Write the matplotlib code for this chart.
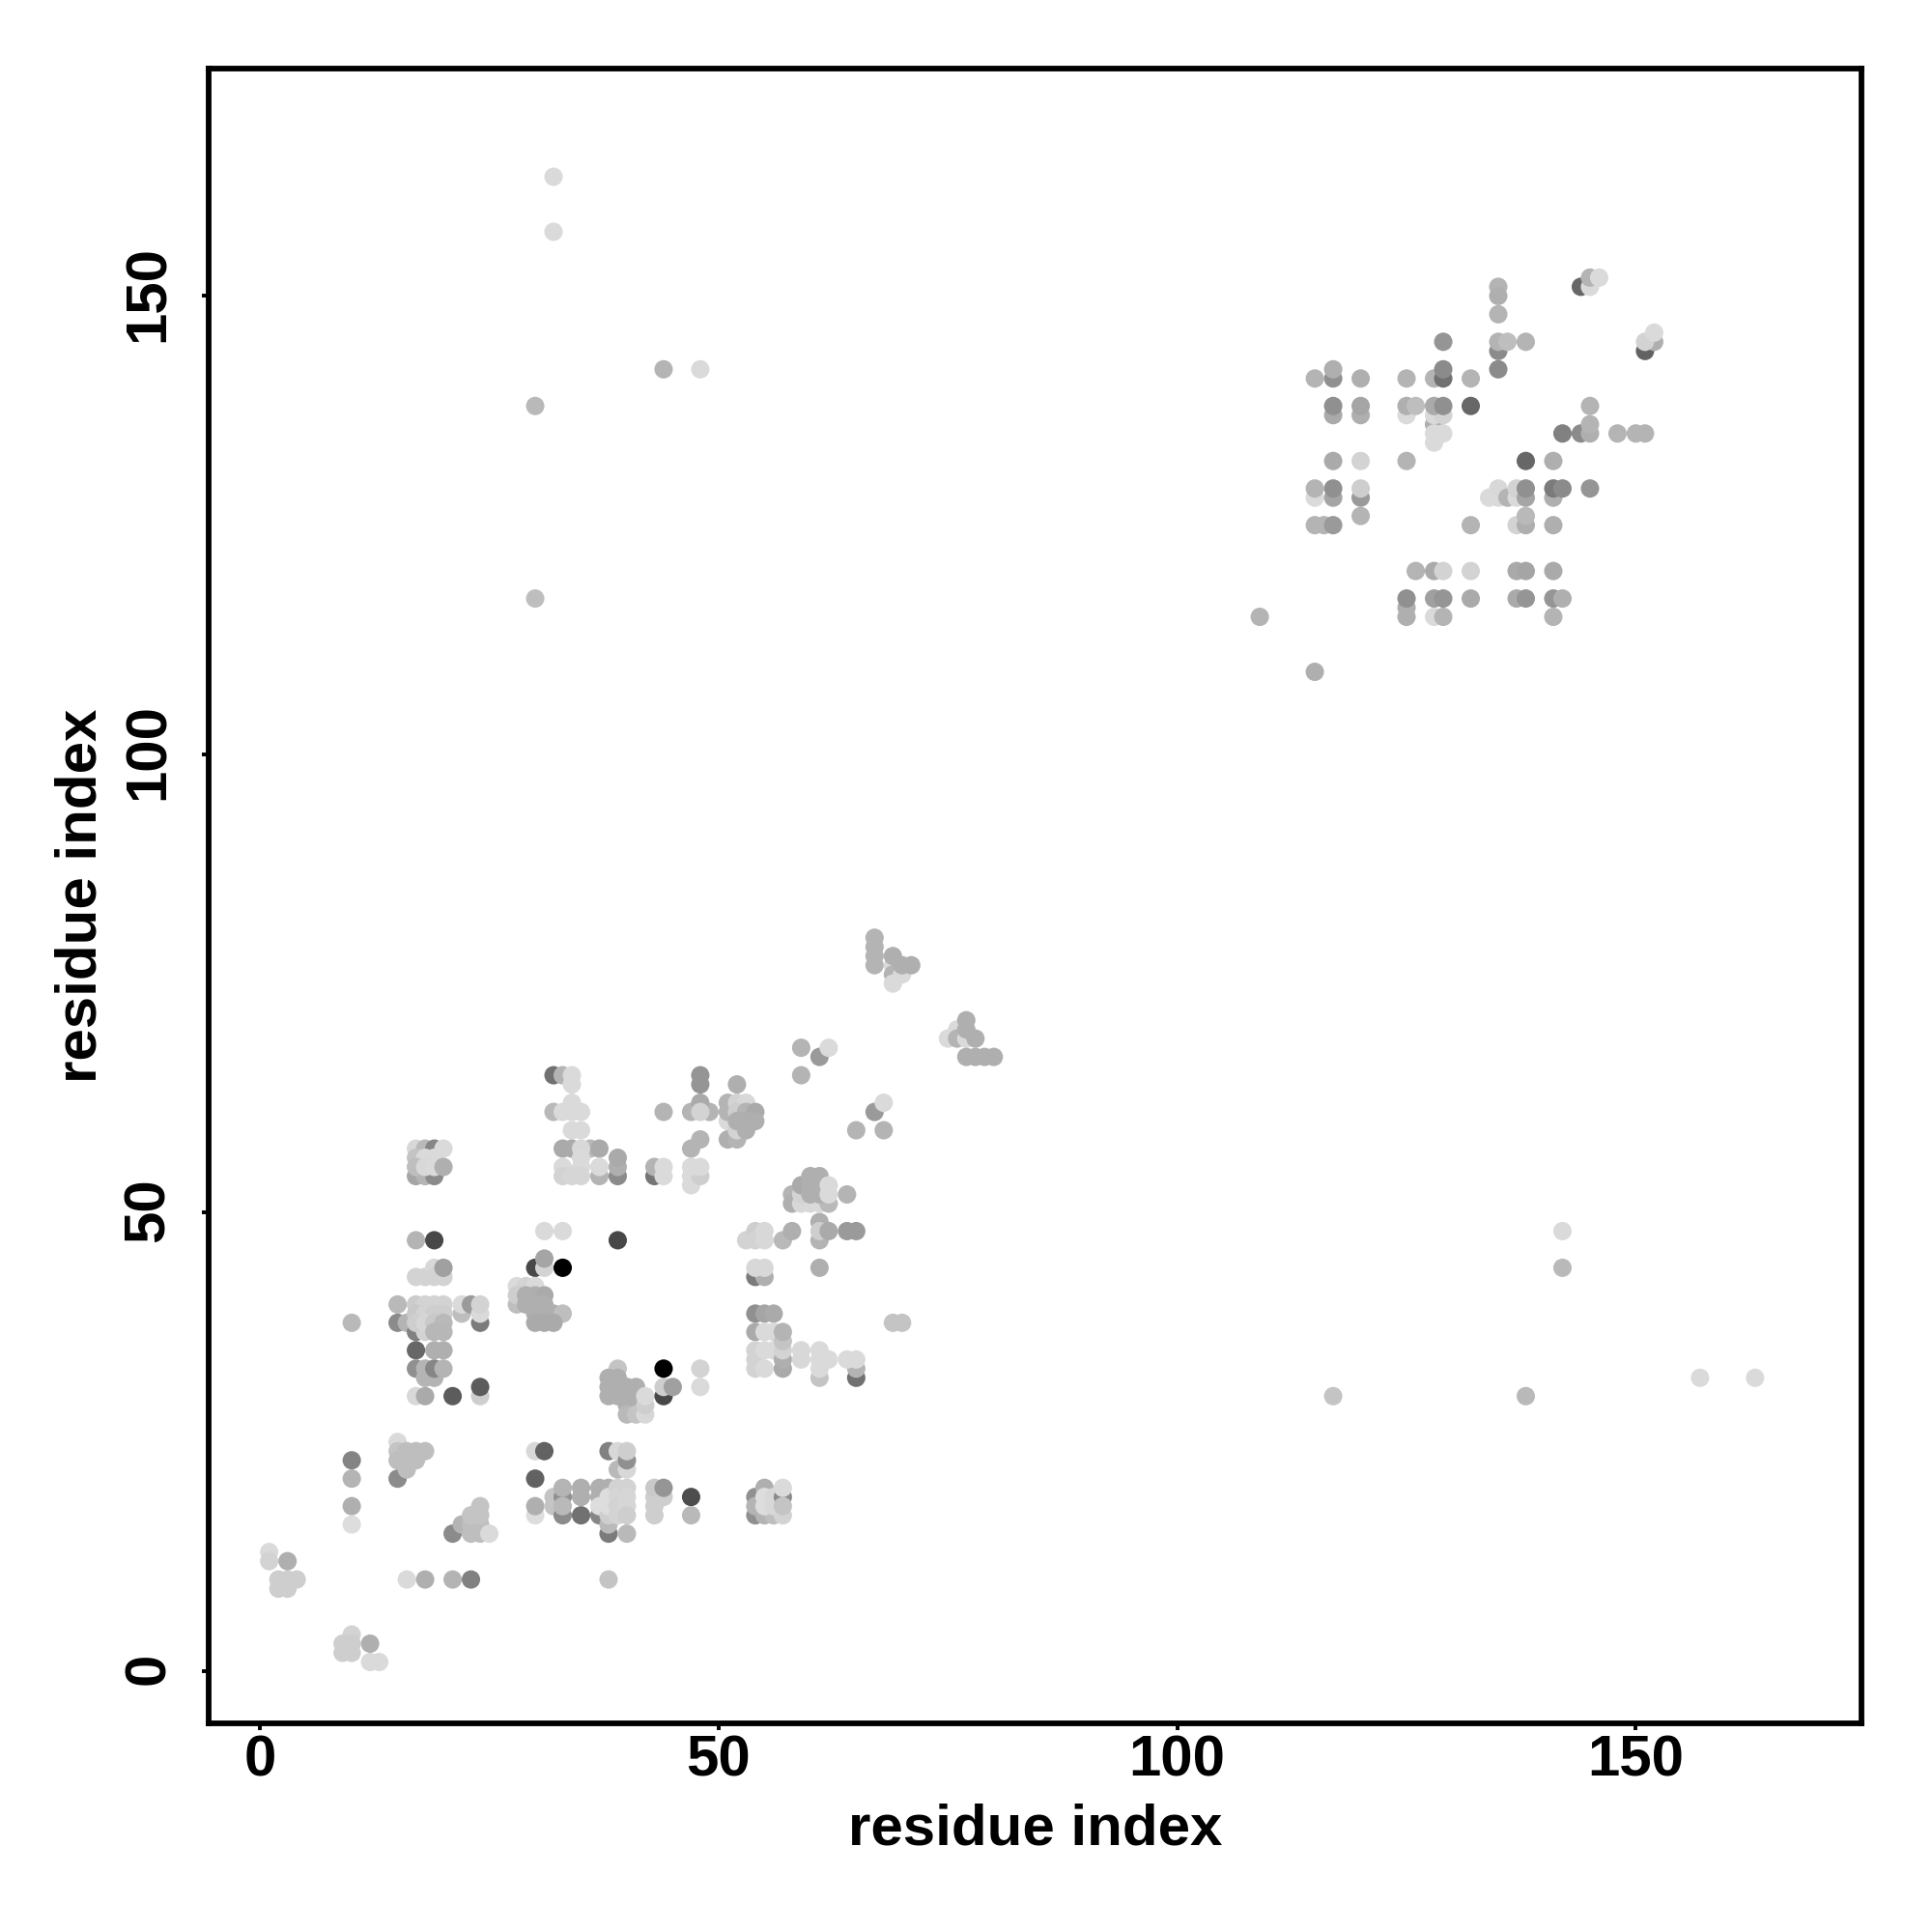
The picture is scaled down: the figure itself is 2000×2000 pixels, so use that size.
#!/usr/bin/python3
# -*- coding: utf-8 -*-

import matplotlib
matplotlib.use('Agg')
import matplotlib.pyplot as plt
from matplotlib.transforms import ScaledTranslation

# contacts are (residue i, residue j, grey level 0-255), drawn in list order
corner_low = [
    (1, 13, 212), (1, 12, 205), (2, 10, 200), (3, 10, 200), (4, 10, 200), (2, 9, 200), (3, 9, 200), (3, 12, 170),
    (10, 4, 205), (9, 3, 200), (10, 3, 200), (9, 2, 200), (10, 2, 200), (12, 1, 212), (13, 1, 212), (12, 3, 170),
    (10, 23, 128), (10, 21, 175), (10, 18, 170), (10, 16, 215), (15, 21, 135),
    (15, 25, 212), (15, 24, 190), (15, 23, 185), (16, 24, 185), (17, 24, 185), (18, 24, 185),
    (16, 23, 185), (17, 23, 185), (16, 22, 185),
    (21, 15, 135), (22, 16, 175), (23, 15, 185), (24, 15, 185), (23, 16, 185), (24, 16, 185), (23, 17, 190),
    (24, 17, 190), (24, 18, 190), (25, 15, 212),
    (16, 10, 212), (18, 10, 170), (21, 10, 175), (23, 10, 125), (38, 10, 190),
]

block_17_20_low = [
    (15, 40, 180), (15, 38, 135), (16, 38, 175), (17, 37, 125), (18, 37, 205), (17, 40, 198), (18, 40, 205),
    (19, 40, 205), (20, 40, 205), (17, 39, 195), (18, 39, 205), (19, 39, 200), (20, 39, 200),
    (17, 38, 200), (18, 38, 208), (19, 38, 195), (20, 38, 180), (19, 37, 178), (20, 37, 178),
    (17, 43, 205), (18, 43, 205), (19, 44, 210), (19, 43, 205), (20, 43, 205), (20, 44, 155),
    (17, 47, 175), (19, 47, 70), (17, 35, 100), (19, 35, 170), (20, 35, 170),
    (17, 33, 140), (18, 33, 175), (18, 32, 175), (19, 32, 175), (19, 33, 130), (20, 33, 175),
    (17, 30, 210), (18, 30, 165), (21, 30, 90), (24, 30, 200), (24, 31, 90),
    (22, 39, 185), (22, 40, 212), (23, 40, 150), (24, 38, 120), (24, 39, 212), (24, 40, 205), (10, 38, 180),
]

block_17_20_high = [
    (17, 54, 160), (18, 54, 175), (19, 54, 135), (17, 57, 210), (18, 57, 180), (19, 57, 130), (20, 57, 212),
    (17, 56, 190), (18, 56, 212), (19, 56, 212), (17, 55, 185), (18, 55, 210), (19, 55, 212), (20, 55, 170),
]

block_30_40_low = [
    (30, 24, 210), (31, 24, 95), (30, 21, 95), (30, 17, 215), (30, 18, 170), (32, 19, 190), (32, 18, 190),
    (33, 17, 135), (33, 19, 140), (33, 18, 180), (33, 20, 175), (35, 17, 110), (35, 20, 170), (35, 19, 170),
    (37, 17, 130), (37, 20, 170), (37, 19, 170), (37, 18, 215), (38, 15, 120), (38, 16, 180), (38, 20, 170),
    (38, 17, 200), (38, 19, 215), (38, 18, 215), (39, 20, 205), (39, 19, 208), (39, 18, 205), (39, 17, 205),
    (40, 15, 180), (40, 20, 205), (40, 19, 208), (40, 18, 208), (40, 17, 200),
    (38, 24, 125), (39, 24, 210), (39, 22, 180), (40, 22, 210), (40, 23, 140), (40, 24, 200),
    (43, 17, 200), (43, 18, 200), (43, 19, 200), (43, 20, 195), (44, 19, 200), (44, 20, 145),
    (47, 19, 75), (47, 17, 180),
]

block_54_57_low = [
    (54, 17, 140), (54, 19, 140), (54, 18, 175), (55, 17, 175), (56, 17, 185), (57, 17, 205), (55, 20, 170),
    (55, 19, 215), (55, 18, 215), (56, 19, 210), (56, 18, 210), (57, 19, 135), (57, 18, 190), (57, 20, 212),
]

block_28_48_mid = [
    (39, 47, 70), (31, 48, 212), (33, 48, 212), (30, 44, 70), (31, 44, 205), (31, 45, 160), (33, 44, 0),
    (28, 42, 212), (29, 42, 205), (30, 42, 212), (28, 40, 185), (28, 41, 200),
    (29, 41, 170), (30, 41, 170), (31, 41, 165), (29, 40, 170), (30, 40, 170), (31, 40, 170),
    (30, 39, 170), (31, 39, 170), (32, 39, 170), (33, 39, 185), (30, 38, 165), (31, 38, 165), (32, 38, 165),
    (39, 33, 190), (38, 32, 170), (39, 32, 170), (38, 31, 170), (39, 31, 170), (40, 31, 170), (41, 31, 170),
    (38, 30, 170), (39, 30, 170), (40, 30, 170), (41, 30, 170), (40, 29, 170), (41, 29, 170),
    (40, 28, 180), (41, 28, 190), (42, 28, 210), (42, 29, 200), (42, 30, 212),
    (44, 30, 70), (44, 31, 200), (45, 31, 155), (44, 33, 0), (48, 33, 205), (48, 31, 212),
]

block_32_49_high = [
    (32, 65, 110), (33, 65, 175), (34, 65, 212), (34, 64, 212), (34, 62, 212), (32, 61, 180), (33, 61, 212),
    (34, 61, 212), (35, 61, 212), (34, 59, 212), (35, 59, 212),
    (33, 57, 165), (34, 57, 165), (36, 57, 180), (35, 57, 210), (37, 57, 165), (33, 55, 212), (35, 56, 212),
    (35, 55, 212), (33, 54, 205), (34, 54, 208), (35, 54, 208), (37, 54, 175), (37, 55, 212),
    (39, 54, 135), (39, 55, 170), (39, 56, 165), (43, 54, 115), (43, 55, 175), (44, 55, 212), (44, 54, 212),
    (47, 57, 175), (48, 58, 175), (47, 53, 212), (47, 54, 212), (48, 54, 200), (47, 55, 212), (48, 55, 212),
    (48, 65, 145), (48, 64, 145), (44, 61, 175), (47, 61, 175), (49, 61, 175), (48, 62, 165), (48, 61, 205),
]

block_51_65_mid = [
    (54, 43, 120), (55, 43, 170), (54, 44, 210), (55, 44, 210), (53, 47, 205), (54, 48, 200), (54, 47, 205),
    (55, 47, 210), (55, 48, 210), (57, 47, 180), (58, 48, 170), (61, 44, 170),
    (54, 39, 140), (55, 39, 160), (56, 39, 165), (54, 37, 165), (55, 37, 212), (56, 37, 212),
    (54, 35, 205), (54, 34, 205), (54, 33, 205), (55, 35, 212), (55, 33, 212), (56, 35, 212),
    (57, 33, 165), (57, 34, 170), (57, 35, 205), (57, 36, 190), (57, 37, 175),
    (59, 35, 210), (59, 34, 210), (61, 32, 190), (61, 35, 212), (61, 34, 212), (61, 33, 212), (62, 34, 212),
    (65, 32, 110), (65, 33, 175), (64, 34, 212), (65, 34, 212), (69, 38, 190), (70, 38, 190),
    (61, 49, 170), (61, 47, 175), (61, 48, 200), (62, 48, 165), (64, 48, 150), (65, 48, 150),
]

block_51_68_high = [
    (58, 52, 175), (58, 51, 170), (59, 51, 210), (60, 51, 210), (61, 51, 212), (62, 51, 180),
    (59, 52, 205), (59, 53, 165), (60, 54, 170), (61, 54, 170), (60, 53, 170), (61, 53, 170), (60, 52, 170),
    (61, 52, 170), (62, 52, 212), (62, 53, 212), (64, 52, 175),
    (52, 64, 170), (51, 62, 175), (51, 60, 212), (51, 58, 170), (52, 58, 175), (51, 61, 175), (52, 62, 205),
    (53, 62, 210), (52, 61, 200), (52, 59, 205), (53, 59, 170), (53, 61, 175), (54, 61, 165),
    (52, 60, 170), (53, 60, 170), (54, 60, 170),
    (59, 68, 175), (61, 67, 150), (62, 68, 212), (59, 65, 175),
    (65, 59, 175), (67, 61, 150), (68, 62, 212), (68, 59, 175),
]

chain_67_80 = [
    (67, 80, 175), (67, 79, 175), (67, 78, 175), (67, 77, 175),
    (69, 77, 212), (69, 76, 175), (69, 75, 212), (70, 76, 212), (69, 78, 170), (70, 77, 170), (71, 77, 170),
    (75, 69, 212), (76, 70, 212), (76, 69, 175), (77, 69, 212), (77, 71, 170), (77, 70, 170), (78, 69, 170),
    (77, 67, 170), (78, 67, 170), (79, 67, 170), (80, 67, 170),
]

cluster_high = [
    (135, 151, 175), (135, 150, 170), (135, 148, 175), (144, 151, 100), (145, 151, 212), (145, 152, 175),
    (146, 152, 212), (129, 145, 145), (135, 144, 135), (135, 145, 175), (136, 145, 185), (138, 145, 175),
    (135, 142, 135), (151, 144, 95), (152, 145, 170), (151, 145, 205), (152, 146, 212),
    (115, 141, 175), (117, 141, 140), (117, 142, 170), (120, 141, 170), (125, 141, 175), (128, 141, 175),
    (129, 141, 110), (129, 142, 135), (132, 141, 175),
    (117, 137, 165), (117, 138, 140), (120, 137, 170), (120, 138, 160), (125, 137, 212), (125, 138, 170),
    (126, 138, 185), (128, 136, 170), (128, 137, 212), (129, 137, 205), (128, 138, 165), (129, 138, 140),
    (132, 138, 100), (128, 135, 212), (128, 134, 212), (129, 135, 212),
    (142, 135, 125), (144, 135, 135), (145, 135, 170), (145, 136, 175), (145, 138, 175),
    (148, 135, 175), (150, 135, 175), (151, 135, 175),
    (117, 132, 165), (120, 132, 205), (125, 132, 175), (138, 132, 100), (141, 132, 170),
    (115, 128, 212), (115, 129, 175), (117, 128, 160), (117, 129, 140), (120, 128, 150), (120, 129, 200),
    (134, 128, 212), (135, 128, 212), (135, 129, 210), (136, 128, 175), (137, 128, 212), (137, 129, 205),
    (138, 128, 160), (138, 129, 140), (141, 128, 170), (141, 129, 120), (142, 129, 135), (145, 129, 145),
    (120, 126, 175), (115, 125, 175), (116, 125, 175), (117, 125, 150), (132, 125, 175), (137, 125, 205),
    (138, 125, 170), (138, 126, 180), (141, 125, 170),
    (126, 120, 175), (128, 120, 165), (129, 120, 205), (132, 120, 205), (137, 120, 165), (138, 120, 160),
    (141, 120, 165), (125, 115, 170), (125, 116, 170), (125, 117, 140), (128, 117, 155), (129, 117, 145),
    (128, 115, 212), (129, 115, 175), (132, 117, 165), (137, 117, 165), (138, 117, 145),
    (141, 117, 145), (142, 117, 170), (141, 115, 175), (109, 115, 175), (115, 109, 170),
]

stray_contacts = [
    (32, 163, 212), (32, 157, 212), (44, 142, 175), (48, 142, 212), (30, 138, 180), (30, 117, 185),
    (142, 48, 212), (142, 44, 180), (117, 30, 190), (138, 30, 180), (157, 32, 212), (163, 32, 212),
]

all_groups = [
    corner_low, block_17_20_low, block_17_20_high, block_30_40_low, block_54_57_low, block_28_48_mid,
    block_32_49_high, block_51_65_mid, block_51_68_high, chain_67_80, cluster_high, stray_contacts,
]

tick_values = [0, 50, 100, 150]


def main():

    fig = plt.figure(figsize=(10, 10), dpi=200)
    ax = fig.add_axes([216 / 2000, 1 - 1784 / 2000, (1927 - 216) / 2000, (1784 - 71) / 2000])

    for group in all_groups:
        i, j, shade = zip(*group)
        ax.scatter(i, j, c=shade, cmap='gray', vmin=0, vmax=248, s=47, linewidths=0, clip_on=False)

    ax.set_xlim(-5.6, 174.6)
    ax.set_ylim(-5.69, 174.8)

    font = {'family': 'Liberation Sans', 'weight': 'bold', 'size': 21.6}
    ax.set_xticks(tick_values)
    ax.set_yticks(tick_values)
    ax.set_xticklabels(tick_values, **font)
    ax.set_yticklabels(tick_values, rotation=90, va='center', **font)
    ax.tick_params(length=2.6, width=1.4, color='black')
    ax.tick_params(axis='x', pad=1.5)
    ax.tick_params(axis='y', pad=9.7)

    # rotated labels sit a little low, nudge them up onto the ticks
    for label in ax.get_yticklabels():
        label.set_transform(label.get_transform() + ScaledTranslation(0, 1 / 72, fig.dpi_scale_trans))

    for spine in ax.spines.values():
        spine.set_linewidth(2.1)

    ax.set_xlabel('residue index', **font)
    ax.set_ylabel('residue index', **font)
    ax.xaxis.set_label_coords(0.5, -0.0482)
    ax.yaxis.set_label_coords(-0.061, 0.5)

    plt.savefig('out.png')

    return 0


if __name__ == '__main__':
    main()
